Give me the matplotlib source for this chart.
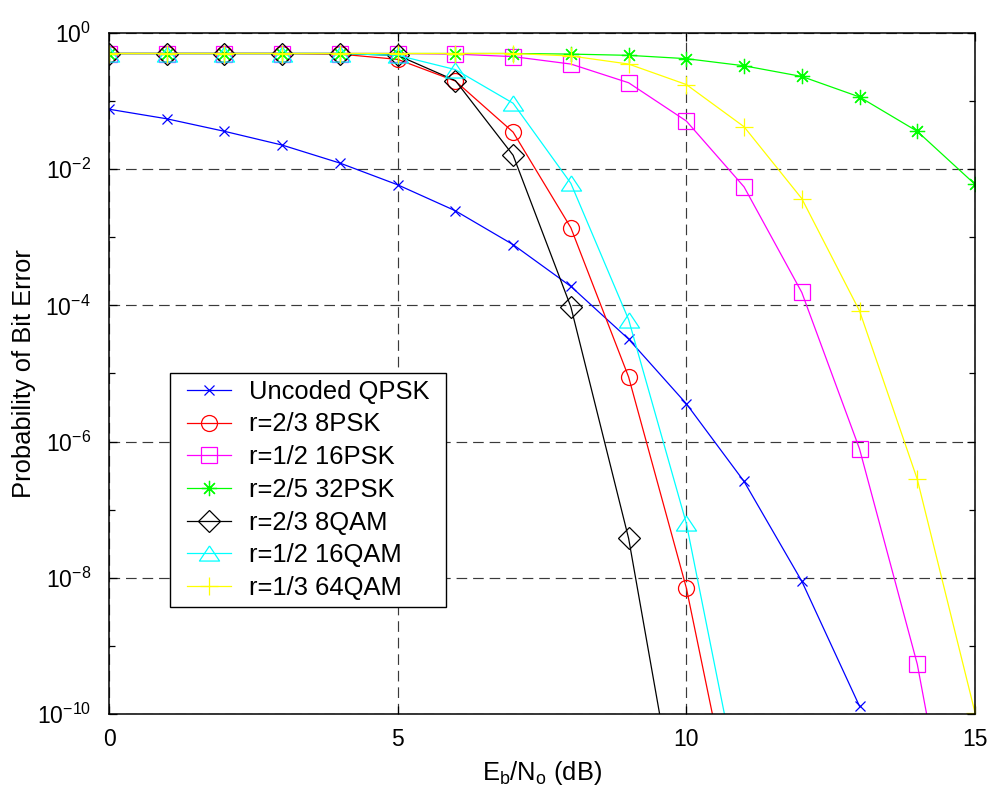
import matplotlib
matplotlib.use("Agg")
import matplotlib.pyplot as plt
from matplotlib.patches import Rectangle
from matplotlib.ticker import FixedLocator, NullFormatter

plt.rcParams['font.family'] = ['Liberation Sans', 'DejaVu Sans']
plt.rcParams['mathtext.fontset'] = 'custom'
plt.rcParams['mathtext.rm'] = 'Liberation Sans'
plt.rcParams['mathtext.it'] = 'Liberation Sans'
plt.rcParams['axes.unicode_minus'] = False

# Eb/No grid (dB) for each curve
snr_qpsk = list(range(0, 14))
snr_8psk = list(range(0, 12))
snr_16psk = list(range(0, 16))
snr_32psk = list(range(0, 16))
snr_8qam = list(range(0, 11))
snr_16qam = list(range(0, 12))
snr_64qam = list(range(0, 16))

# Bit error probabilities
ber_qpsk = [7.6e-2, 5.5e-2, 3.6e-2, 2.26e-2, 1.23e-2, 5.9e-3, 2.45e-3, 7.8e-4,
            1.9e-4, 3.2e-5, 3.6e-6, 2.6e-7, 8.9e-9, 1.3e-10]
ber_8psk = [0.5, 0.5, 0.5, 0.5, 0.49, 0.41, 0.197, 3.5e-2, 1.38e-3, 8.9e-6,
            7.1e-9, 5.6e-13]
ber_16psk = [0.5, 0.5, 0.5, 0.5, 0.5, 0.5, 0.49, 0.45, 0.35, 0.186, 5.1e-2,
             5.5e-3, 1.55e-4, 7.8e-7, 5.4e-10, 1.6e-14]
ber_32psk = [0.5, 0.5, 0.5, 0.5, 0.5, 0.5, 0.5, 0.5, 0.49, 0.47, 0.42, 0.33,
             0.23, 0.115, 3.6e-2, 6.0e-3]
ber_8qam = [0.5, 0.5, 0.5, 0.5, 0.5, 0.47, 0.20, 1.6e-2, 9.5e-5, 3.8e-8, 6e-13]
ber_16qam = [0.5, 0.5, 0.5, 0.5, 0.5, 0.47, 0.29, 9.3e-2, 6.2e-3, 6.2e-5,
             6.3e-8, 3.6e-12]
ber_64qam = [0.5, 0.5, 0.5, 0.5, 0.5, 0.5, 0.5, 0.5, 0.46, 0.35, 0.175, 4.2e-2,
             3.7e-3, 8.3e-5, 2.8e-7, 1.05e-10]

labels = ['Uncoded QPSK', 'r=2/3 8PSK', 'r=1/2 16PSK', 'r=2/5 32PSK',
          'r=2/3 8QAM', 'r=1/2 16QAM', 'r=1/3 64QAM']

x_ticks = [0, 5, 10, 15]
y_major = [1e-10, 1e-8, 1e-6, 1e-4, 1e-2, 1e0]
y_minor = [1e-9, 1e-7, 1e-5, 1e-3, 1e-1]
y_ticklabels = [r'$10^{-10}$', r'$10^{-8}$', r'$10^{-6}$', r'$10^{-4}$',
                r'$10^{-2}$', r'$10^{0}$']

fig = plt.figure(figsize=(9.93, 7.99), dpi=100)
ax = fig.add_axes([109 / 993, 1 - 714 / 799, (975 - 109) / 993, (714 - 33) / 799])

# wide, flat upward triangle and an eight-spoke asterisk
tri_up = [(0, 0.75), (-1, -0.75), (1, -0.75), (0, 0.75)]
asterisk = (8, 2, 0)

lw = 0.9
curves = [
    (snr_qpsk, ber_qpsk, 'x', (0, 0, 1), 7),
    (snr_8psk, ber_8psk, 'o', (1, 0, 0), 11.5),
    (snr_16psk, ber_16psk, 's', (1, 0, 1), 11.5),
    (snr_32psk, ber_32psk, asterisk, (0, 1, 0), 11),
    (snr_8qam, ber_8qam, 'D', (0, 0, 0), 11),
    (snr_16qam, ber_16qam, tri_up, (0, 1, 1), 14.5),
    (snr_64qam, ber_64qam, '+', (1, 1, 0), 12.5),
]
for (x, y, m, c, ms), lab in zip(curves, labels):
    ax.semilogy(x, y, marker=m, color=c, markerfacecolor='none',
                markeredgecolor=c, markersize=ms, linewidth=lw,
                markeredgewidth=0.9, label=lab)

ax.set_xlim(0, 15)
ax.set_ylim(1e-10, 1e0)
ax.xaxis.set_major_locator(FixedLocator(x_ticks))
ax.set_xticklabels([str(v) for v in x_ticks])
ax.yaxis.set_major_locator(FixedLocator(y_major))
ax.yaxis.set_minor_locator(FixedLocator(y_minor))
ax.yaxis.set_minor_formatter(NullFormatter())
ax.set_yticklabels(y_ticklabels)
ax.xaxis.set_minor_locator(FixedLocator([]))

ax.tick_params(which='both', direction='in', top=True, right=True,
               labelsize=16.5, width=0.9)
ax.tick_params(axis='y', which='major', pad=13)
ax.tick_params(axis='x', which='major', pad=10)
ax.tick_params(which='major', length=6)
ax.tick_params(which='minor', length=4)

ax.grid(True, which='major', color='#3a3a3a', linestyle=(0, (9, 5)),
        linewidth=0.85)
for s in ax.spines.values():
    s.set_linewidth(1.1)
    s.set_color('black')

ax.set_xlabel(r'$\mathregular{E_b/N_o}$ (dB)', fontsize=18.4, labelpad=6)
ax.set_ylabel('Probability of Bit Error', fontsize=18.4)
ax.yaxis.set_label_coords(-0.084, 0.5)

# legend without its own frame; a box with wider side margins is drawn around it
leg = ax.legend(loc='lower left', bbox_to_anchor=(0.082, 0.157),
                borderaxespad=0, fontsize=18.4, frameon=False,
                handlelength=1.7, handletextpad=0.7,
                labelspacing=0.34, borderpad=0.28)
fig.canvas.draw()
bb = leg.get_window_extent().transformed(fig.transFigure.inverted())
side = 10 / 993
frame = Rectangle((bb.x0 - side, bb.y0), bb.width + 2 * side, bb.height,
                  transform=fig.transFigure, facecolor='white',
                  edgecolor='black', linewidth=1.0, zorder=4.9)
ax.add_artist(frame)
leg.set_zorder(5)

fig.savefig('out.png', dpi=100)
